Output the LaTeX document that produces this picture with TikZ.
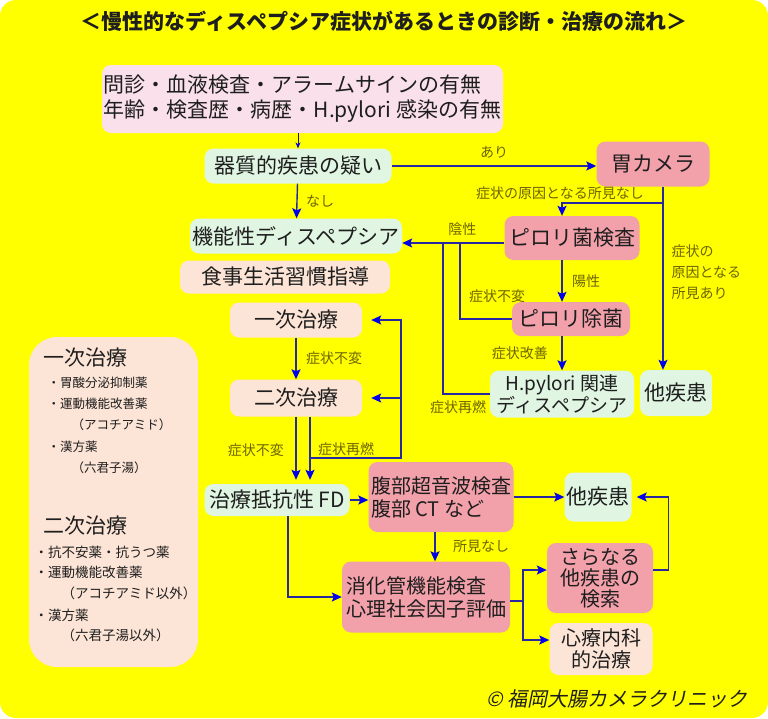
\documentclass[tikz,border=0pt]{standalone}
\usepackage{fontspec}
\setmainfont{Noto Sans CJK JP}
\newfontfamily\slantjp{Noto Sans CJK JP}[FakeSlant=0.2]
\usetikzlibrary{arrows.meta,positioning}
\definecolor{yellowbg}{RGB}{255,255,0}
\definecolor{pinkbg}{RGB}{250,224,234}
\definecolor{mintbg}{RGB}{224,245,226}
\definecolor{peachbg}{RGB}{252,228,214}
\definecolor{salmbg}{RGB}{242,160,170}
\definecolor{lineblue}{RGB}{40,40,160}
\definecolor{tipblue}{RGB}{0,0,235}
\definecolor{olivetxt}{RGB}{110,100,0}
\definecolor{ink}{RGB}{30,30,30}

\begin{document}
\begin{tikzpicture}[x=1pt,y=-1pt,font=\fontsize{21}{25}\selectfont,
  >={Stealth[length=10pt,width=9pt,inset=2pt,color=tipblue]},
  sz/.style 2 args={minimum width=#1pt,minimum height=#2pt},
  box/.style={rounded corners=9pt,inner sep=0pt,align=center,text=ink},
  mint/.style={box,fill=mintbg},
  peach/.style={box,fill=peachbg},
  salm/.style={box,fill=salmbg},
  two/.style={font=\fontsize{20}{23}\selectfont},
  lbl/.style={font=\fontsize{14}{21}\selectfont,text=olivetxt},
  ln/.style={draw=lineblue,line width=1.4pt},
  lista/.style={anchor=west,text=ink,font=\fontsize{12.5}{15}\selectfont},
  listb/.style={anchor=west,text=ink,font=\fontsize{13.5}{16}\selectfont},
  head/.style={anchor=west,text=ink,font=\fontsize{21}{25}\selectfont}]
\fill[white] (0,0) rectangle (768,718);
\fill[yellowbg,rounded corners=16pt] (0,0) rectangle (768,718);
\useasboundingbox (0,0) rectangle (768,718);
\node[text=ink,font=\fontsize{21}{25}\selectfont\bfseries] (title) at (384,21) {＜慢性的なディスペプシア症状があるときの診断・治療の流れ＞};
% diagnosis
\node[box,fill=pinkbg,sz={401}{68},align=left] (hist) at (302.5,99) {問診・血液検査・アラームサインの有無\\年齢・検査歴・病歴・H.pylori 感染の有無};
\node[mint,sz={187}{35}] (organic) at (298,166) {器質的疾患の疑い};
\node[salm,sz={113}{45}] (egd) at (653,164) {胃カメラ};
\node[mint,sz={212}{35}] (fd) at (296,236) {機能性ディスペプシア};
\node[peach,sz={210}{33}] (diet) at (285,277) {食事生活習慣指導};
\node[salm,sz={135}{44}] (hptest) at (572,238) {ピロリ菌検査};
\node[salm,sz={118}{34}] (erad) at (571,319) {ピロリ除菌};
\node[mint,sz={144}{47},font=\fontsize{19}{22}\selectfont] (hpfd) at (562,394) {H.pylori 関連\\ディスペプシア};
\node[mint,sz={72}{46}] (other1) at (676,393) {他疾患};
% treatment
\node[peach,sz={132}{35}] (first) at (296,320) {一次治療};
\node[peach,sz={132}{37}] (second) at (296,398) {二次治療};
\node[mint,sz={145}{32}] (rfd) at (277,500) {治療抵抗性 FD};
\node[salm,sz={145}{70},two,align=left] (imaging) at (441,497) {腹部超音波検査\\腹部 CT など};
\node[mint,sz={67}{49}] (other2) at (598,497) {他疾患};
\node[salm,sz={168}{71},two,align=left] (gifunc) at (426,597) {消化管機能検査\\心理社会因子評価};
\node[salm,sz={106}{70},font=\fontsize{20}{21}\selectfont] (further) at (600,578) {さらなる\\他疾患の\\検索};
\node[peach,sz={103}{52},font=\fontsize{20}{22}\selectfont] (psych) at (601,649) {心療内科\\的治療};
% left panel
\node[peach,rounded corners=28pt,sz={169}{330}] (panel) at (113.5,502) {};
\node[head] (h1) at (40,358) {一次治療};
\node[lista] (a1) at (44,383) {・胃酸分泌抑制薬};
\node[lista] (a2) at (44,404) {・運動機能改善薬};
\node[lista] (a3) at (68,425) {（アコチアミド）};
\node[lista] (a4) at (44,447) {・漢方薬};
\node[lista] (a5) at (68,468) {（六君子湯）};
\node[head] (h2) at (40,526) {二次治療};
\node[listb] (b1) at (31,552) {・抗不安薬・抗うつ薬};
\node[listb] (b2) at (31,572) {・運動機能改善薬};
\node[listb] (b3) at (58,593) {（アコチアミド以外）};
\node[listb] (b4) at (31,615) {・漢方薬};
\node[listb] (b5) at (58,635) {（六君子湯以外）};
\node[text=ink,font=\slantjp\fontsize{20}{24}\selectfont] (copy) at (617,699) {© 福岡大腸カメラクリニック};
% helper points
\coordinate (cx) at (562,0); \coordinate (split1) at (663,203);
\coordinate (negy) at (0,243); \coordinate (j1) at (460,243); \coordinate (j2) at (443,243);
\coordinate (c1) at (296,0); \coordinate (c2) at (310,0); \coordinate (r1) at (310,458);
\coordinate (rx) at (401,0); \coordinate (c3) at (435,0); \coordinate (c4) at (288,0);
\coordinate (s1) at (523,601); \coordinate (fy) at (0,570); \coordinate (py) at (0,640);
% connectors
\draw[draw=ink,line width=0.6pt,-{Stealth[length=6pt,width=5pt,color=tipblue]}] (hist.south -| organic) -- (organic.north);
\draw[ln,->] (organic.east) -- (organic.east -| egd.west) node[lbl,midway,above=4pt] (l1) {あり};
\draw[ln,->] (organic) -- (fd) node[lbl,midway,right=5pt] (l2) {なし};
\draw[ln,->] (egd.south -| split1) -- (other1.north -| split1);
\draw[ln,->] (split1) -| (hptest.north -| cx);
\node[lbl] (l3) at (560,193) {症状の原因となる所見なし};
\node[lbl,align=left,anchor=west] (l4) at (668,272) {症状の\\原因となる\\所見あり};
\draw[ln,->] (hptest.west |- negy) -- (fd.east |- negy) node[lbl,pos=.41,above=3pt] (l5) {陰性};
\draw[ln] (erad.west) -| (j1);
\draw[ln] (hpfd.west) -| (j2);
\node[lbl] (l6) at (497,296) {症状不変};
\node[lbl] (l7) at (458,407) {症状再燃};
\draw[ln,->] (hptest.south -| cx) -- (erad.north -| cx) node[lbl,midway,right=6pt] (l8) {陽性};
\draw[ln,->] (erad.south -| cx) -- (hpfd.north -| cx) node[lbl,midway,left=10pt] (l9) {症状改善};
\draw[ln,->] (first) -- (second) node[lbl,midway,right=6pt] (l10) {症状不変};
\draw[ln,->,shorten >=4pt] (second.south -| c1) -- (rfd.north -| c1) node[lbl,midway,left=8pt] (l11) {症状不変};
\draw[ln,->,shorten >=4pt] (second.south -| c2) -- (rfd.north -| c2);
\draw[ln,->,shorten >=9pt] (r1) -| (rx |- first.east) -- (first.east);
\draw[ln,->,shorten >=9pt] (rx |- second.east) -- (second.east);
\node[lbl] (l12) at (346,449) {症状再燃};
\draw[ln,->] (rfd.east) -- (rfd.east -| imaging.west);
\draw[ln,->] (imaging.east) -- (imaging.east -| other2.west);
\draw[ln,->] (imaging.south -| c3) -- (gifunc.north -| c3) node[lbl,midway,right=14pt] (l13) {所見なし};
\draw[ln,->] (rfd.south -| c4) |- (gifunc.west);
\draw[ln] (gifunc.east |- s1) -- (s1);
\draw[ln,->] (s1) |- (further.west |- fy);
\draw[ln,->] (s1) |- (psych.west |- py);
\draw[ln,->,shorten >=5pt] (further.east |- fy) -- ++(15,0) |- (other2.east);
\end{tikzpicture}
\end{document}
